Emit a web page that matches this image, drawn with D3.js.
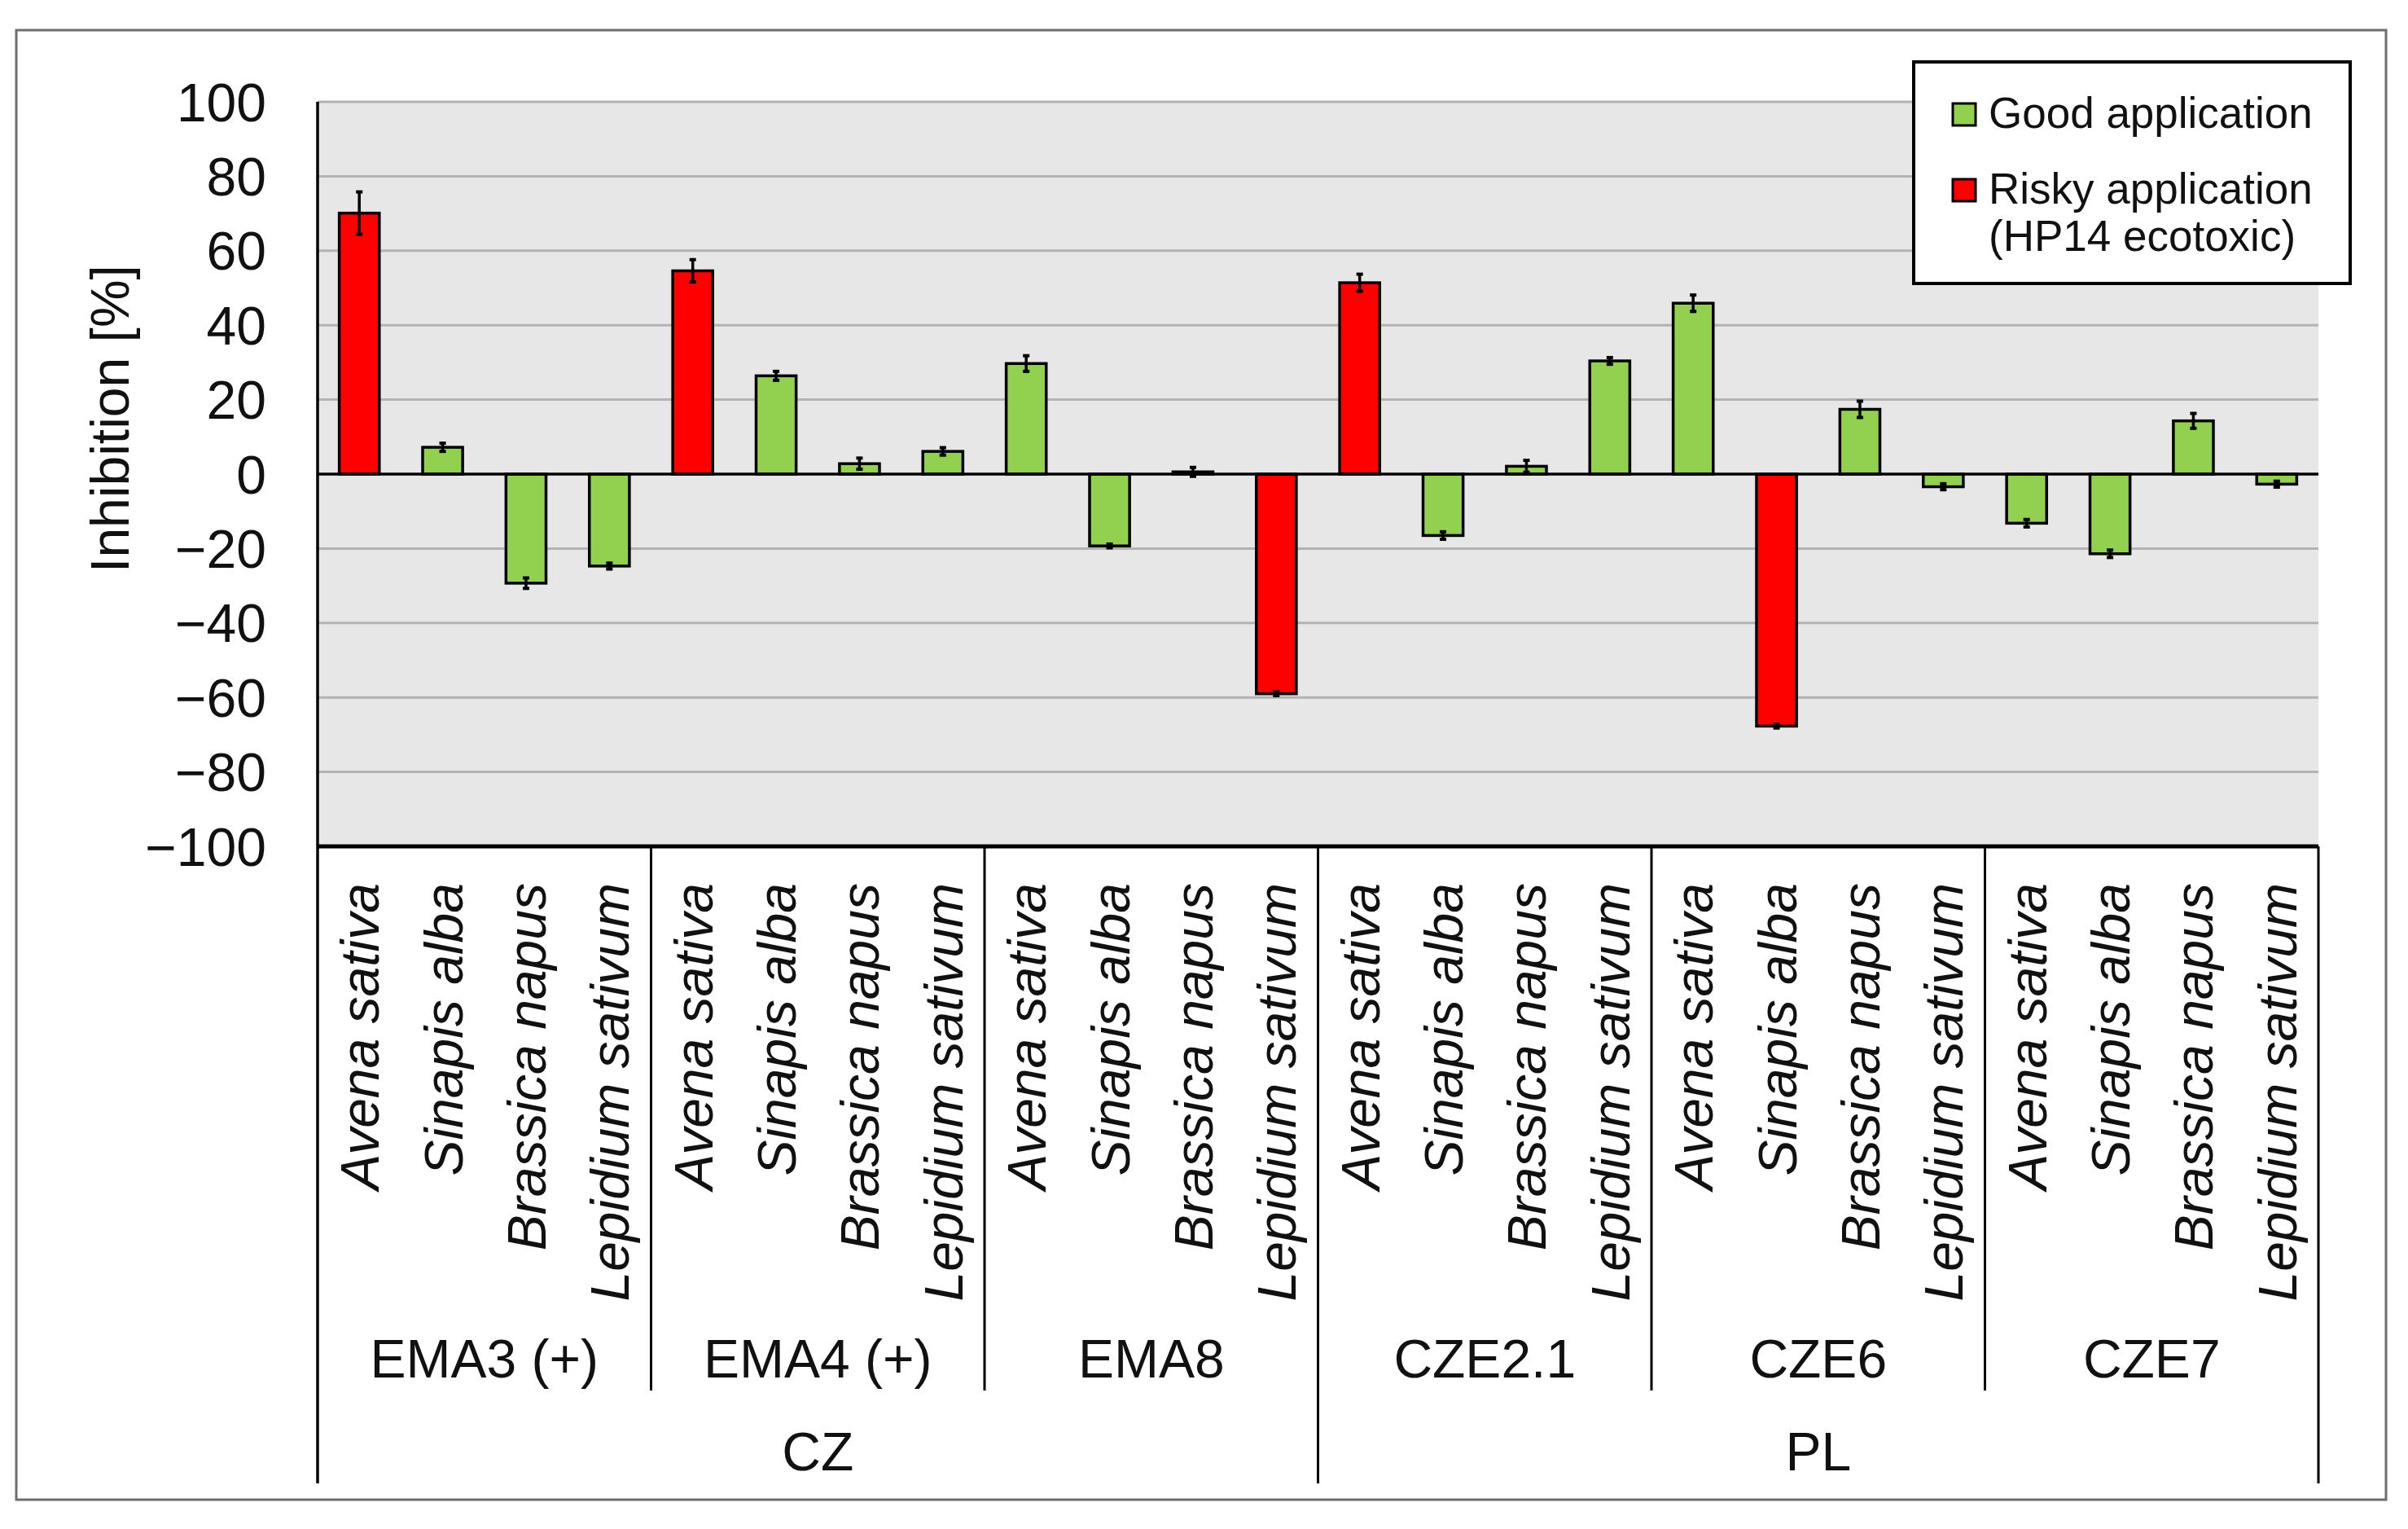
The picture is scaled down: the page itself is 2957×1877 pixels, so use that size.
<!DOCTYPE html>
<html>
<head>
<meta charset="utf-8">
<script src="https://cdn.jsdelivr.net/npm/d3@7"></script>
<style>
  body { margin: 0; background: #fff; }
  text { font-family: "Liberation Sans", Arial, sans-serif; fill: #111; }
</style>
</head>
<body>
<svg id="chart" width="2957" height="1877"></svg>
<script>
var countries = ['CZ', 'PL'];
var groups = ['EMA3 (+)', 'EMA4 (+)', 'EMA8', 'CZE2.1', 'CZE6', 'CZE7'];
var groupCountry = ['CZ', 'CZ', 'CZ', 'PL', 'PL', 'PL'];
var species = ['Avena sativa', 'Sinapis alba', 'Brassica napus', 'Lepidium sativum'];

// inhibition [%] per group, in species order
var inhibition = [
  [70.1, 7.2, -29.3, -24.7],
  [54.6, 26.4, 2.8, 6.1],
  [29.7, -19.3, 0.6, -59.0],
  [51.4, -16.5, 2.1, 30.4],
  [45.9, -67.7, 17.4, -3.4],
  [-13.2, -21.4, 14.3, -2.7]
];
var errors = [
  [5.7, 1.1, 1.4, 0.8],
  [3.0, 1.2, 1.5, 1.0],
  [2.1, 0.5, 1.2, 0.5],
  [2.3, 1.0, 1.6, 0.9],
  [2.2, 0.5, 2.2, 0.8],
  [1.0, 1.0, 2.0, 0.8]
];
// 1 = risky application (HP14 ecotoxic)
var risky = [
  [1, 0, 0, 0],
  [1, 0, 0, 0],
  [0, 0, 0, 1],
  [1, 0, 0, 0],
  [0, 1, 0, 0],
  [0, 0, 0, 0]
];
var yTicks = [100, 80, 60, 40, 20, 0, -20, -40, -60, -80, -100];
var legendLabels = [['Good application'], ['Risky application', '(HP14 ecotoxic)']];

var GREEN = '#92d050', RED = '#ff0000';

var plotLeft = 390, plotRight = 2847, plotTop = 125, plotBottom = 1039;
var groupLineBottom = 1707, countryLineBottom = 1821;

var svg = d3.select('#chart');

// outer frame
svg.append('rect').attr('x', 20).attr('y', 37).attr('width', 2910).attr('height', 1804)
  .attr('fill', 'none').attr('stroke', '#6e6e6e').attr('stroke-width', 3);

var rows = [];
groups.forEach(function (g, gi) {
  species.forEach(function (s, si) {
    rows.push({
      key: g + '|' + s, group: g, gi: gi, species: s,
      value: inhibition[gi][si], err: errors[gi][si], risky: risky[gi][si]
    });
  });
});

var x = d3.scaleBand().domain(rows.map(function (d) { return d.key; }))
  .range([plotLeft, plotRight]).paddingInner(0.52).paddingOuter(0.26);
var step = x.step();
var y = d3.scaleLinear().domain([-100, 100]).range([plotBottom, plotTop]);

// plot background
svg.append('rect').attr('x', plotLeft).attr('y', plotTop).attr('width', plotRight - plotLeft)
  .attr('height', plotBottom - plotTop).attr('fill', '#e7e7e7');

// gridlines
svg.append('g').selectAll('line').data(yTicks.filter(function (t) { return t !== 0 && t !== -100; }))
  .enter().append('line')
  .attr('x1', plotLeft).attr('x2', plotRight)
  .attr('y1', function (d) { return y(d); }).attr('y2', function (d) { return y(d); })
  .attr('stroke', '#b3b3b3').attr('stroke-width', 3);

// y axis labels
var yAxis = d3.axisLeft(y).tickValues(yTicks).tickSize(0).tickPadding(0);
var yg = svg.append('g').attr('transform', 'translate(327,0)').call(yAxis);
yg.select('.domain').remove();
yg.selectAll('text').attr('font-size', 66).attr('font-family', '"Liberation Sans", Arial, sans-serif')
  .attr('fill', '#111').attr('dy', '0.35em');

svg.append('text').attr('transform', 'translate(158,514) rotate(-90)')
  .attr('text-anchor', 'middle').attr('font-size', 66).text('Inhibition [%]');

// bars
var bw = x.bandwidth();
svg.append('g').selectAll('rect').data(rows).enter().append('rect')
  .attr('x', function (d) { return x(d.key); })
  .attr('width', bw)
  .attr('y', function (d) { return y(Math.max(0, d.value)); })
  .attr('height', function (d) { return Math.abs(y(d.value) - y(0)); })
  .attr('fill', function (d) { return d.risky ? RED : GREEN; })
  .attr('stroke', '#000').attr('stroke-width', 3.5);

// zero line
svg.append('line').attr('x1', plotLeft).attr('x2', plotRight).attr('y1', y(0)).attr('y2', y(0))
  .attr('stroke', '#000').attr('stroke-width', 3.5);

// error bars
var eb = svg.append('g').selectAll('g').data(rows).enter().append('g')
  .attr('transform', function (d) { return 'translate(' + (x(d.key) + bw / 2) + ',0)'; });
eb.append('line').attr('y1', function (d) { return y(d.value + d.err); })
  .attr('y2', function (d) { return y(d.value - d.err); })
  .attr('stroke', '#000').attr('stroke-width', 3.5);
eb.append('line').attr('x1', -4).attr('x2', 4)
  .attr('y1', function (d) { return y(d.value + d.err); })
  .attr('y2', function (d) { return y(d.value + d.err); })
  .attr('stroke', '#000').attr('stroke-width', 4);
eb.append('line').attr('x1', -4).attr('x2', 4)
  .attr('y1', function (d) { return y(d.value - d.err); })
  .attr('y2', function (d) { return y(d.value - d.err); })
  .attr('stroke', '#000').attr('stroke-width', 4);

// category axis lines
svg.append('line').attr('x1', plotLeft).attr('x2', plotRight).attr('y1', plotBottom).attr('y2', plotBottom)
  .attr('stroke', '#000').attr('stroke-width', 5);
svg.append('line').attr('x1', plotLeft).attr('x2', plotLeft).attr('y1', plotTop).attr('y2', countryLineBottom)
  .attr('stroke', '#000').attr('stroke-width', 3.5);

var groupWidth = step * species.length;
function groupStart(gi) { return plotLeft + gi * groupWidth; }

// group separators
var sepData = d3.range(1, groups.length).map(function (gi) {
  var isCountry = groupCountry[gi] !== groupCountry[gi - 1];
  return { x: groupStart(gi), bottom: isCountry ? countryLineBottom : groupLineBottom };
});
sepData.push({ x: plotRight, bottom: countryLineBottom });
svg.append('g').selectAll('line').data(sepData).enter().append('line')
  .attr('x1', function (d) { return d.x; }).attr('x2', function (d) { return d.x; })
  .attr('y1', plotBottom).attr('y2', function (d) { return d.bottom; })
  .attr('stroke', '#000').attr('stroke-width', 3);

// species labels
svg.append('g').selectAll('text').data(rows).enter().append('text')
  .attr('transform', function (d) {
    return 'translate(' + (x(d.key) + bw / 2 + 24) + ',1084) rotate(-90)';
  })
  .attr('text-anchor', 'end').attr('font-size', 66).attr('font-style', 'italic')
  .text(function (d) { return d.species; });

// group labels
svg.append('g').selectAll('text').data(groups).enter().append('text')
  .attr('x', function (d, i) { return groupStart(i) + groupWidth / 2; })
  .attr('y', 1691).attr('text-anchor', 'middle').attr('font-size', 66)
  .text(function (d) { return d; });

// country labels
svg.append('g').selectAll('text').data(countries).enter().append('text')
  .attr('x', function (c) {
    var idx = groupCountry.map(function (g, i) { return g === c ? i : -1; })
      .filter(function (i) { return i >= 0; });
    return (groupStart(idx[0]) + groupStart(idx[idx.length - 1] + 1)) / 2;
  })
  .attr('y', 1805).attr('text-anchor', 'middle').attr('font-size', 66)
  .text(function (d) { return d; });

// legend
var lg = svg.append('g');
lg.append('rect').attr('x', 2350).attr('y', 76).attr('width', 536).attr('height', 272)
  .attr('fill', '#fff').attr('stroke', '#000').attr('stroke-width', 4);
var legendColors = [GREEN, RED];
var legendRowY = [157, 250];
legendLabels.forEach(function (lines, i) {
  lg.append('rect').attr('x', 2398).attr('y', legendRowY[i] - 30).attr('width', 28).attr('height', 27)
    .attr('fill', legendColors[i]).attr('stroke', '#000').attr('stroke-width', 3);
  lines.forEach(function (t, j) {
    lg.append('text').attr('x', 2442).attr('y', legendRowY[i] + j * 58)
      .attr('font-size', 53).text(t);
  });
});
</script>
</body>
</html>
